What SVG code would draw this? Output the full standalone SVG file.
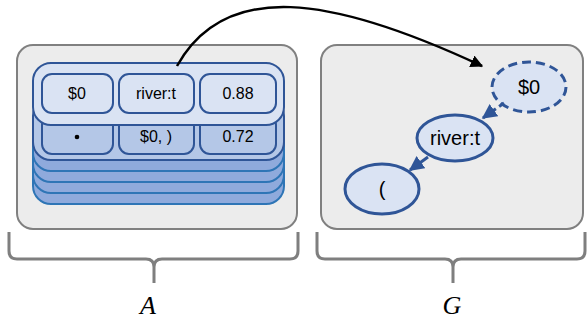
<svg xmlns="http://www.w3.org/2000/svg" width="587" height="320" viewBox="0 0 587 320">
<defs>
<style>
.panel{fill:#ececec;stroke:#808080;stroke-width:2}
.row1{fill:#dae3f3;stroke:#2f5597;stroke-width:2}
.row2{fill:#b4c7e7;stroke:#2f5597;stroke-width:2}
.layer{fill:#8faadc;stroke:#2e75b6;stroke-width:2}
.cell1{fill:#dae3f3;stroke:#2f5597;stroke-width:2}
.cell2{fill:#b4c7e7;stroke:#2f5597;stroke-width:2}
.t{font-family:"Liberation Sans",Arial,sans-serif;font-size:16px;fill:#000;text-anchor:middle;dominant-baseline:central}
.tn{font-family:"Liberation Sans",Arial,sans-serif;font-size:20px;fill:#000;text-anchor:middle;dominant-baseline:central}
.node{fill:#dae3f3;stroke:#2f5597;stroke-width:3}
.brace{fill:none;stroke:#7f7f7f;stroke-width:3}
.lbl{font-family:"Liberation Serif","Times New Roman",serif;font-style:italic;font-size:26px;fill:#000;text-anchor:middle}
</style>
<marker id="ah" viewBox="0 0 10 10" refX="9" refY="5" markerWidth="5" markerHeight="5" orient="auto" markerUnits="strokeWidth">
<path d="M0,0 L10,5 L0,10 z" fill="#2f5597"/>
</marker>
<marker id="ahk" viewBox="0 0 10 10" refX="9" refY="5" markerWidth="5" markerHeight="5" orient="auto" markerUnits="strokeWidth">
<path d="M0,0 L10,5 L0,10 z" fill="#000"/>
</marker>
</defs>
<g id="panelA">
<rect class="panel" x="17" y="45" width="280" height="184" rx="16"/>
<rect class="layer" x="33" y="142" width="251" height="62" rx="18"/>
<rect class="layer" x="33" y="131" width="251" height="62" rx="18"/>
<rect class="layer" x="33" y="120" width="251" height="62" rx="18"/>
<rect class="layer" x="33" y="109" width="251" height="62" rx="18"/>
</g>
<g id="row2">
<rect class="row2" x="33" y="98" width="251" height="62" rx="18"/>
<rect class="cell2" x="42" y="115" width="71" height="39" rx="10"/>
<rect class="cell2" x="119" y="115" width="75" height="39" rx="10"/>
<rect class="cell2" x="200" y="115" width="76" height="39" rx="10"/>
<circle cx="77" cy="137" r="2.3" fill="#000"/>
<text class="t" x="156" y="136">$0, )</text>
<text class="t" x="238" y="136">0.72</text>
</g>
<g id="row1">
<rect class="row1" x="33" y="63" width="251" height="62" rx="18"/>
<rect class="cell1" x="42" y="74" width="71" height="39" rx="10"/>
<rect class="cell1" x="119" y="74" width="75" height="39" rx="10"/>
<rect class="cell1" x="200" y="74" width="76" height="39" rx="10"/>
<text class="t" x="77" y="93">$0</text>
<text class="t" x="156" y="93">river:t</text>
<text class="t" x="238" y="93">0.88</text>
</g>
<g id="panelG">
<rect class="panel" x="321" y="45" width="262" height="184" rx="16"/>
</g>
<g id="n0">
<ellipse class="node" cx="529" cy="87" rx="37" ry="25" stroke-dasharray="9,5"/>
<text class="tn" x="529" y="87">$0</text>
</g>
<g id="nriver">
<ellipse class="node" cx="455" cy="138" rx="38" ry="23"/>
<text class="tn" x="455" y="138">river:t</text>
</g>
<g id="nparen">
<ellipse class="node" cx="382" cy="189" rx="37" ry="25"/>
<text class="tn" x="382" y="189">(</text>
</g>
<g id="connectors">
<path d="M177,66 C225,-20 330,-5 482,66" fill="none" stroke="#000" stroke-width="2.5" marker-end="url(#ahk)"/>
<line x1="504" y1="103" x2="483" y2="118" stroke="#2f5597" stroke-width="3" stroke-dasharray="6,4" marker-end="url(#ah)"/>
<line x1="428" y1="157" x2="410" y2="170" stroke="#2f5597" stroke-width="3" marker-end="url(#ah)"/>
</g>
<g id="braces">
<path class="brace" d="M9,232 V251 Q9,259 17,259 H146 Q154,259 154,267 V283 M154,267 Q154,259 162,259 H290 Q298,259 298,251 V232"/>
<path class="brace" d="M317,232 V251 Q317,259 325,259 H445 Q453,259 453,267 V283 M453,267 Q453,259 461,259 H577 Q585,259 585,251 V232"/>
<text class="lbl" x="148" y="314">A</text>
<text class="lbl" x="452" y="314">G</text>
</g>
</svg>
